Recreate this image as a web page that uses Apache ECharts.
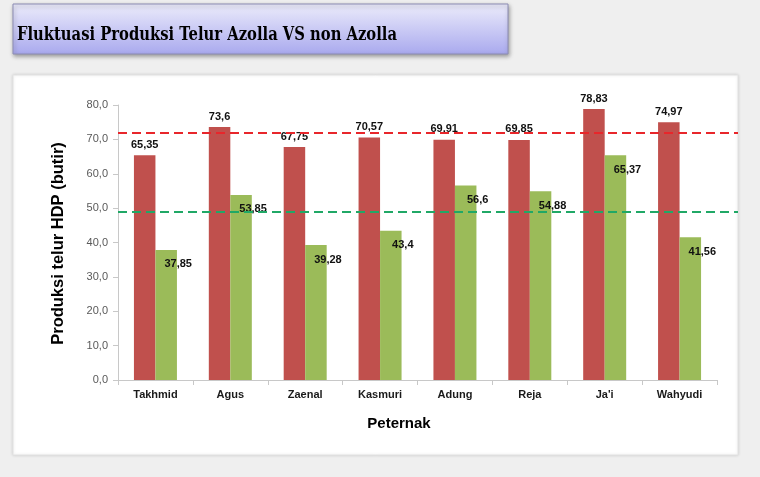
<!DOCTYPE html>
<html>
<head>
<meta charset="utf-8">
<script src="https://cdn.jsdelivr.net/npm/echarts@6/dist/echarts.min.js"></script>
<style>
html,body{margin:0;padding:0;background:#efefef;}
#c{width:760px;height:477px;}
</style>
</head>
<body>
<div id="c"></div>
<script>
var categories = ['Takhmid','Agus','Zaenal','Kasmuri','Adung','Reja',"Ja'i",'Wahyudi'];
var azolla = [65.35,73.6,67.75,70.57,69.91,69.85,78.83,74.97];
var nonAzolla = [37.85,53.85,39.28,43.4,56.6,54.88,65.37,41.56];
var azollaLine = 71.8;
var nonAzollaLine = 48.9;
var yTicks = [0,10,20,30,40,50,60,70,80];
var titleText = 'Fluktuasi Produksi Telur Azolla VS non Azolla';
var yTitle = 'Produksi telur HDP (butir)';
var xTitle = 'Peternak';

function fmt(v){ return String(v).replace('.', ','); }

var chart = echarts.init(document.getElementById('c'));
var titleEl = {type:'text', z:10, x:17, y:35, scaleX:1,
     style:{text:titleText, fill:'#000', font:'bold 18px "DejaVu Serif", serif', verticalAlign:'middle'}};
var tw = echarts.format.getTextRect ? null : null;
// measure title width with canvas to fit 380px
var cv = document.createElement('canvas').getContext('2d');
cv.font = 'bold 18px "DejaVu Serif", serif';
var w = cv.measureText(titleText).width;
titleEl.scaleX = 380 / w;

var option = {
  backgroundColor: '#efefef',
  animation: false,
  graphic: [
    {type:'rect', z:-10, shape:{x:13,y:75,width:725,height:380},
     style:{fill:'#ffffff', stroke:'#e2e2e2', lineWidth:1, shadowBlur:3, shadowColor:'rgba(0,0,0,0.12)'}},
    {type:'rect', z:-5, shape:{x:13,y:4,width:495,height:50},
     style:{fill:new echarts.graphic.LinearGradient(0,0,0,1,[{offset:0,color:'#ececfb'},{offset:1,color:'#a9a9ee'}]),
            stroke:'#8c8cb4', lineWidth:1, shadowBlur:4, shadowOffsetX:1, shadowOffsetY:2, shadowColor:'rgba(0,0,0,0.35)'}},
    titleEl,
    {type:'text', z:10, x:58, y:243.5, rotation:Math.PI/2,
     style:{text:yTitle, fill:'#000', font:'bold 16.5px "Liberation Sans", Arial, sans-serif', align:'center', verticalAlign:'middle'}},
    {type:'text', z:10, x:399, y:424,
     style:{text:xTitle, fill:'#000', font:'bold 15px "Liberation Sans", Arial, sans-serif', align:'center', verticalAlign:'middle'}}
  ],
  grid: [
    {left:118, right:43, top:105, bottom:97},
    {left:118, right:22, top:105, bottom:97}
  ],
  xAxis: [
    {type:'category', gridIndex:0, data:categories,
     axisLine:{lineStyle:{color:'#c8c8c8'}},
     axisTick:{show:true, length:5, lineStyle:{color:'#c8c8c8'}},
     axisLabel:{color:'#1a1a1a', fontWeight:'bold', fontSize:11, fontFamily:'"Liberation Sans", Arial, sans-serif', margin:9}},
    {type:'value', gridIndex:1, show:false, min:0, max:1}
  ],
  yAxis: [
    {type:'value', gridIndex:0, min:0, max:80, interval:10,
     axisLine:{show:true, lineStyle:{color:'#c8c8c8'}},
     axisTick:{show:true, length:5, lineStyle:{color:'#c8c8c8'}},
     splitLine:{show:false},
     axisLabel:{color:'#595959', fontSize:11, fontFamily:'"Liberation Sans", Arial, sans-serif', margin:10,
       formatter:function(v){ return v.toFixed(1).replace('.', ','); }}},
    {type:'value', gridIndex:1, show:false, min:0, max:80}
  ],
  series: [
    {type:'bar', name:'Azolla', xAxisIndex:0, yAxisIndex:0, data:azolla, barWidth:21.5, barGap:'0%',
     itemStyle:{color:'#c0504d'},
     label:{show:true, position:'top', distance:5, color:'#111', fontWeight:'bold', fontSize:11,
            fontFamily:'"Liberation Sans", Arial, sans-serif', formatter:function(p){return fmt(p.value);}}},
    {type:'bar', name:'non Azolla', xAxisIndex:0, yAxisIndex:0, data:nonAzolla, barWidth:21.5, barGap:'0%',
     itemStyle:{color:'#9bbb59'},
     label:{show:true, position:'insideTop', distance:5, offset:[12,4], color:'#111', fontWeight:'bold', fontSize:11,
            fontFamily:'"Liberation Sans", Arial, sans-serif', formatter:function(p){return fmt(p.value);}}},
    {type:'scatter', xAxisIndex:1, yAxisIndex:1, data:[], z:20, silent:true,
     markLine:{silent:true, symbol:['none','none'], label:{show:false},
       data:[
         {yAxis:azollaLine, lineStyle:{color:'#e8262b', width:2, type:[9,5]}},
         {yAxis:nonAzollaLine, lineStyle:{color:'#20a866', width:2, type:[9,5]}}
       ]}}
  ]
};
chart.setOption(option);
</script>
</body>
</html>
